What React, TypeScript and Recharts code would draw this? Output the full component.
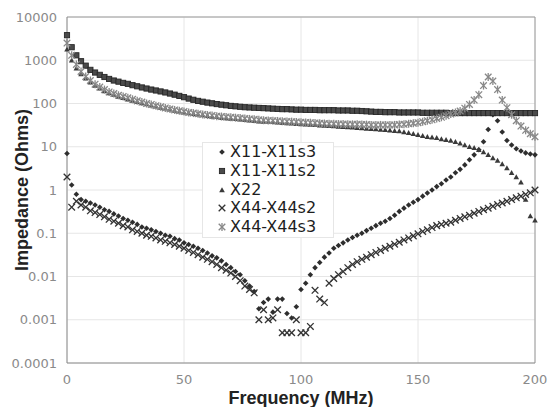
import React from 'react';
import { ScatterChart, Scatter, XAxis, YAxis, CartesianGrid, ReferenceLine } from 'recharts';

// frequency grid (MHz), every 2 MHz
const freq = [
  0, 2, 4, 6, 8, 10, 12, 14, 16, 18,
  20, 22, 24, 26, 28, 30, 32, 34, 36, 38,
  40, 42, 44, 46, 48, 50, 52, 54, 56, 58,
  60, 62, 64, 66, 68, 70, 72, 74, 76, 78,
  80, 82, 84, 86, 88, 90, 92, 94, 96, 98,
  100, 102, 104, 106, 108, 110, 112, 114, 116, 118,
  120, 122, 124, 126, 128, 130, 132, 134, 136, 138,
  140, 142, 144, 146, 148, 150, 152, 154, 156, 158,
  160, 162, 164, 166, 168, 170, 172, 174, 176, 178,
  180, 182, 184, 186, 188, 190, 192, 194, 196, 198,
  200,
];

// impedance in ohms, one value per frequency
const x11s3 = [
  7, 1.3, 0.8, 0.6, 0.55, 0.5, 0.45, 0.4, 0.35, 0.32,
  0.28, 0.25, 0.22, 0.2, 0.18, 0.16, 0.14, 0.13, 0.12, 0.11,
  0.1, 0.09, 0.085, 0.075, 0.07, 0.06, 0.055, 0.05, 0.045, 0.04,
  0.035, 0.03, 0.027, 0.023, 0.019, 0.016, 0.013, 0.011, 0.008, 0.006,
  0.0045, 0.0018, 0.0025, 0.003, 0.0015, 0.003, 0.003, 0.0014, 0.0011, 0.002,
  0.005, 0.007, 0.011, 0.016, 0.021, 0.028, 0.035, 0.045, 0.052, 0.06,
  0.07, 0.08, 0.09, 0.1, 0.115, 0.13, 0.15, 0.17, 0.19, 0.22,
  0.26, 0.32, 0.38, 0.45, 0.52, 0.6, 0.72, 0.85, 1.0, 1.2,
  1.4, 1.7, 2.0, 2.5, 3, 3.8, 5, 6.5, 8.5, 13,
  25, 55, 40, 22, 14, 11, 9, 8, 7.2, 6.8,
  6.5,
];

const x11s2 = [
  3800, 2000, 1300, 950, 750, 600, 520, 460, 410, 370,
  340, 320, 300, 285, 265, 250, 235, 222, 210, 200,
  190, 180, 170, 160, 150, 140, 130, 122, 115, 110,
  105, 101, 97, 94, 91, 88, 86, 84, 82, 81,
  80, 79, 78, 77, 76, 75, 74, 74, 73, 72,
  72, 71, 71, 71, 70, 70, 70, 70, 69, 69,
  69, 68, 68, 67, 66, 65, 64, 64, 63, 63,
  63, 62, 62, 62, 62, 62, 61, 61, 61, 61,
  61, 61, 60, 60, 60, 60, 60, 60, 60, 60,
  60, 60, 60, 60, 60, 60, 60, 60, 60, 60,
  60,
];

const x22 = [
  1800, 1000, 650, 480, 380, 310, 260, 225, 195, 175,
  160, 145, 135, 125, 117, 110, 103, 97, 91, 86,
  81, 77, 73, 69, 66, 63, 60, 58, 56, 54,
  52, 50, 49, 47, 46, 45, 44, 43, 42, 41,
  40, 39, 38.5, 38, 37.5, 37, 36, 35.5, 35, 34,
  33.5, 33, 32.5, 32, 31.5, 31, 30.5, 30, 29.5, 29,
  28.5, 28, 27.5, 27, 26.5, 26, 25.5, 25, 24.5, 24,
  23.5, 23, 22, 21, 20, 19, 18, 17, 16.5, 16,
  15, 14.5, 14, 13, 12, 11, 10, 9.5, 8.5, 7.5,
  6.5, 5.5, 4.8, 4, 3.2, 2.5, 2, 1.5, 0.6, 0.25,
  0.2,
];

const x44s2 = [
  2, 0.4, 0.55, 0.45, 0.4, 0.33, 0.3, 0.27, 0.24, 0.21,
  0.19, 0.17, 0.15, 0.14, 0.12, 0.11, 0.1, 0.09, 0.085, 0.078,
  0.07, 0.065, 0.06, 0.055, 0.05, 0.045, 0.04, 0.036, 0.032, 0.028,
  0.025, 0.022, 0.019, 0.016, 0.014, 0.012, 0.01, 0.008, 0.006, 0.005,
  0.0042, 0.001, 0.0017, 0.001, 0.0011, 0.0017, 0.0005, 0.0005, 0.0005, 0.001,
  0.0005, 0.0005, 0.0007, 0.0048, 0.003, 0.0025, 0.007, 0.009, 0.011, 0.013,
  0.016, 0.019, 0.022, 0.025, 0.028, 0.032, 0.036, 0.04, 0.045, 0.05,
  0.056, 0.062, 0.07, 0.078, 0.087, 0.097, 0.11, 0.12, 0.135, 0.15,
  0.16, 0.17, 0.18, 0.2, 0.22, 0.24, 0.26, 0.29, 0.32, 0.35,
  0.38, 0.42, 0.46, 0.5, 0.55, 0.6, 0.66, 0.72, 0.79, 0.86,
  1.0,
];

const x44s3 = [
  2500, 1300, 800, 550, 420, 340, 280, 240, 210, 185,
  170, 155, 145, 135, 125, 115, 108, 100, 95, 89,
  84, 79, 75, 71, 68, 65, 62, 60, 58, 56,
  54, 53, 51, 50, 49, 48, 47, 46, 45, 44,
  43, 42, 41, 40.5, 40, 39.5, 39, 38.5, 38, 37.5,
  37, 36.5, 36, 35.5, 35, 34.5, 34, 34, 33.5, 33.5,
  33, 33, 33, 32.5, 32.5, 32, 32, 32, 32, 32,
  32, 32.5, 33, 34, 35, 36, 38, 40, 42, 45,
  48, 52, 57, 62, 67, 78, 95, 120, 160, 260,
  410, 330, 210, 120, 80, 55, 40, 30, 24, 20,
  17,
];

const seriesNames = ['X11-X11s3', 'X11-X11s2', 'X22', 'X44-X44s2', 'X44-X44s3'];
const xTicks = [0, 50, 100, 150, 200];
const yTicks = [0.0001, 0.001, 0.01, 0.1, 1, 10, 100, 1000, 10000];

const toPoints = (vals: number[]) => freq.map((f, i) => ({ f, z: vals[i] }));

// marker shapes, roughly like the spreadsheet ones
const Diamond = ({ cx, cy }: any) => (
  <polygon points={`${cx},${cy - 2.8} ${cx + 2.8},${cy} ${cx},${cy + 2.8} ${cx - 2.8},${cy}`} fill="#2e2e2e" />
);
const Square = ({ cx, cy }: any) => (
  <rect x={cx - 2.6} y={cy - 2.6} width={5.2} height={5.2} fill="#4a4a4a" stroke="#262626" strokeWidth={0.9} />
);
const Triangle = ({ cx, cy }: any) => (
  <polygon points={`${cx},${cy - 2.8} ${cx + 2.8},${cy + 2.2} ${cx - 2.8},${cy + 2.2}`} fill="#3a3a3a" />
);
const Cross = ({ cx, cy }: any) => (
  <g stroke="#333" strokeWidth={1.3}>
    <line x1={cx - 3.3} y1={cy - 3.3} x2={cx + 3.3} y2={cy + 3.3} />
    <line x1={cx - 3.3} y1={cy + 3.3} x2={cx + 3.3} y2={cy - 3.3} />
  </g>
);
const Star = ({ cx, cy }: any) => (
  <g stroke="#888" strokeWidth={1.3}>
    <line x1={cx - 3.3} y1={cy - 3.3} x2={cx + 3.3} y2={cy + 3.3} />
    <line x1={cx - 3.3} y1={cy + 3.3} x2={cx + 3.3} y2={cy - 3.3} />
    <line x1={cx} y1={cy - 4} x2={cx} y2={cy + 4} />
  </g>
);

const shapes = [Diamond, Square, Triangle, Cross, Star];
const seriesData = [x11s3, x11s2, x22, x44s2, x44s3];

const tickStyle = { fontFamily: 'DejaVu Sans', fontSize: 13, fill: '#8a8a8a' };
const labelStyle = { fontFamily: 'Liberation Sans', fontSize: 18, fontWeight: 'bold', fill: '#222' };

const LegendBox = () => (
  <div
    style={{
      position: 'absolute',
      left: 202,
      top: 142,
      width: 132,
      height: 96,
      background: '#fff',
      border: '1px solid #e6e6e6',
      boxSizing: 'border-box',
      paddingTop: 0,
    }}
  >
    {seriesNames.map((name, i) => {
      const Shape = shapes[i];
      return (
        <div key={name} style={{ display: 'flex', alignItems: 'center', height: 18.7 }}>
          <svg width={26} height={18} style={{ flex: 'none' }}>
            <Shape cx={19} cy={9} />
          </svg>
          <span style={{ fontFamily: 'DejaVu Sans', fontSize: 16, color: '#1e1e1e', marginLeft: 1, lineHeight: '18px' }}>
            {name}
          </span>
        </div>
      );
    })}
  </div>
);

export default function App() {
  return (
    <div style={{ position: 'absolute', left: 0, top: 0, width: 548, height: 407, background: '#fff' }}>
      <ScatterChart width={548} height={407} margin={{ top: 17, right: 13, bottom: 0, left: 7 }}>
        <CartesianGrid stroke="#e6e6e6" strokeWidth={1} />
        <XAxis
          type="number"
          dataKey="f"
          domain={[0, 200]}
          ticks={xTicks}
          height={44}
          tick={tickStyle}
          tickLine={false}
          tickSize={6}
          tickMargin={6}
          axisLine={{ stroke: '#8a8a8a' }}
          label={{ value: 'Frequency (MHz)', position: 'insideBottom', offset: 3, style: labelStyle }}
        />
        <YAxis
          type="number"
          dataKey="z"
          scale="log"
          domain={[0.0001, 10000]}
          allowDataOverflow
          ticks={yTicks}
          tickFormatter={(v: number) => String(v)}
          width={60}
          tick={tickStyle}
          tickLine={false}
          tickSize={6}
          tickMargin={4}
          axisLine={{ stroke: '#8a8a8a' }}
          label={{
            value: 'Impedance (Ohms)',
            angle: -90,
            position: 'insideLeft',
            offset: 15,
            style: { ...labelStyle, textAnchor: 'middle' },
          }}
        />
        <ReferenceLine x={200} stroke="#9a9a9a" />
        <ReferenceLine y={10000} stroke="#9a9a9a" />
        {seriesData.map((vals, i) => {
          const Shape = shapes[i];
          return (
            <Scatter
              key={seriesNames[i]}
              name={seriesNames[i]}
              data={toPoints(vals)}
              isAnimationActive={false}
              shape={(p: any) => <Shape cx={p.cx} cy={p.cy} />}
            />
          );
        })}
      </ScatterChart>
      <LegendBox />
    </div>
  );
}
